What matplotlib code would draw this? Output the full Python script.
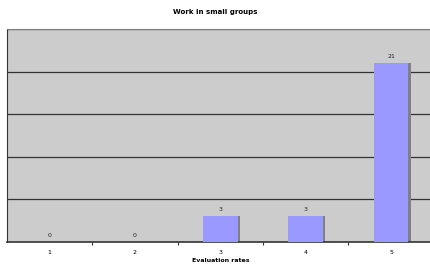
import matplotlib
matplotlib.use("Agg")
import matplotlib.pyplot as plt

rates = [1, 2, 3, 4, 5]
counts = [0, 0, 3, 3, 21]

fig = plt.figure(figsize=(4.31, 2.66), dpi=100)
ax = fig.add_axes([0.0162, 0.0902, 0.99, 0.801])
ax.set_facecolor('#cccccc')

# gray drop shadow, then the bars
ax.bar([r + 0.025 for r in rates], counts, width=0.41, color='#808080', zorder=2)
ax.bar(rates, counts, width=0.41, color='#9999ff', zorder=3)
for r, c in zip(rates, counts):
    ax.text(r, c + 0.5, str(c), ha='center', va='bottom', fontsize=4.5, color='#222222', zorder=4)

ax.set_xlim(0.5, 5.5)
ax.set_ylim(0, 25)
ax.set_yticks([5, 10, 15, 20, 25])
ax.yaxis.grid(True, color='#333333', linewidth=0.9)
ax.set_axisbelow(True)
ax.tick_params(axis='y', left=False, labelleft=False)
ax.set_xticks(rates)
ax.set_xticklabels([str(r) for r in rates], fontsize=4.5)
ax.tick_params(axis='x', length=0, pad=6)
ax.set_xticks([1.5, 2.5, 3.5, 4.5], minor=True)
ax.tick_params(axis='x', which='minor', length=2.5, width=0.8, color='#333333')

for s in ['right']:
    ax.spines[s].set_visible(False)
ax.spines['top'].set_color('#808080')
ax.spines['left'].set_color('#333333')
ax.spines['bottom'].set_color('#333333')
ax.spines['bottom'].set_linewidth(1.2)

ax.set_xlabel('Evaluation rates', fontsize=4.5, fontweight='bold', labelpad=2)
fig.suptitle('Work in small groups', fontsize=5, fontweight='bold', y=0.965)

fig.savefig('out.png', dpi=100, facecolor='white')
